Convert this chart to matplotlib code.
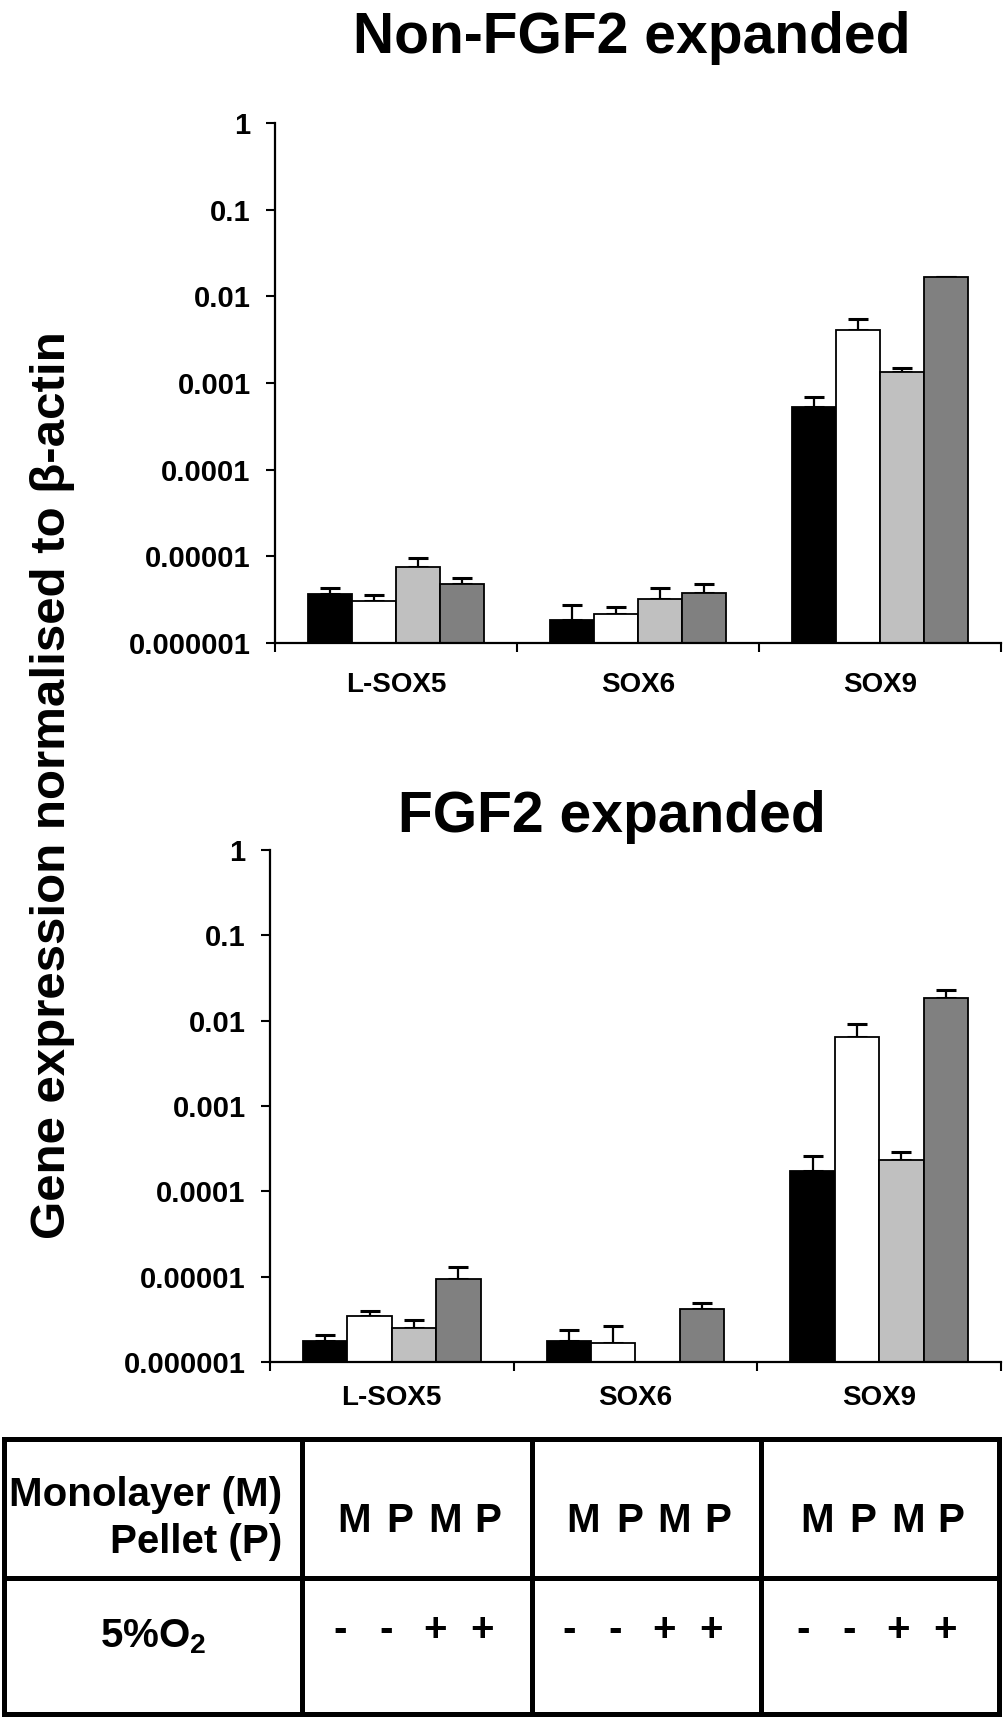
import numpy as np
import matplotlib
matplotlib.use("Agg")
import matplotlib.pyplot as plt

plt.rcParams['font.family'] = ['Liberation Sans', 'DejaVu Sans']
plt.rcParams['font.weight'] = 'bold'
plt.rcParams['mathtext.fontset'] = 'custom'
plt.rcParams['mathtext.bf'] = 'Liberation Sans:bold'
plt.rcParams['mathtext.rm'] = 'Liberation Sans:bold'

## data

genes = ['L-SOX5', 'SOX6', 'SOX9']
conditions = ['M -O2', 'P -O2', 'M +O2', 'P +O2']
colors = ['#000000', '#ffffff', '#c0c0c0', '#808080']

# Non-FGF2 expanded, one row per condition, one column per gene
nonfgf_mean = [[3.66e-6, 1.87e-6, 5.24e-4],
               [3.05e-6, 2.19e-6, 4.15e-3],
               [7.64e-6, 3.23e-6, 1.33e-3],
               [4.85e-6, 3.83e-6, 1.68e-2]]
nonfgf_top = [[4.34e-6, 2.75e-6, 6.82e-4],
              [3.58e-6, 2.60e-6, 5.51e-3],
              [9.48e-6, 4.34e-6, 1.51e-3],
              [5.70e-6, 4.81e-6, 1.68e-2]]

# FGF2 expanded (SOX6 light grey bar missing)
fgf_mean = [[1.75e-6, 1.77e-6, 1.74e-4],
            [3.47e-6, 1.65e-6, 6.48e-3],
            [2.48e-6, np.nan, 2.30e-4],
            [9.27e-6, 4.17e-6, 1.83e-2]]
fgf_top = [[2.08e-6, 2.34e-6, 2.58e-4],
           [3.93e-6, 2.62e-6, 9.06e-3],
           [3.09e-6, np.nan, 2.90e-4],
           [1.30e-5, 4.91e-6, 2.31e-2]]

yticks = [1e-6, 1e-5, 1e-4, 1e-3, 1e-2, 1e-1, 1]
ytick_labels = ['0.000001', '0.00001', '0.0001', '0.001', '0.01', '0.1', '1']

row1_label = ['Monolayer (M)', 'Pellet (P)']
row1_vals = ['M', 'P', 'M', 'P']
row2_label = r'5%O$_\mathbf{2}$'
row2_vals = ['-', '-', '+', '+']

## figure

fig = plt.figure(figsize=(10.04, 17.19), dpi=100)

def panel(rect, means, tops, title, title_xy, label_pad):
    ax = fig.add_axes(rect)
    w = 0.182
    x = np.arange(len(genes)) + 0.5
    for j in range(len(conditions)):
        m = np.array(means[j])
        t = np.array(tops[j])
        xs = x + (j - 1.5) * w
        ax.bar(xs, m, w, color=colors[j], edgecolor='black', linewidth=1.3, zorder=2)
        ax.errorbar(xs, m, yerr=[np.zeros_like(m), t - m], fmt='none',
                    ecolor='black', elinewidth=1.6, capsize=7, capthick=2.2, zorder=1)
    ax.set_yscale('log')
    ax.set_ylim(1e-6, 1)
    ax.set_xlim(0, 3)
    ax.set_yticks(yticks)
    ax.set_yticklabels(ytick_labels)
    ax.minorticks_off()
    ax.set_xticks([0, 1, 2, 3])
    ax.set_xticklabels([])
    ax.set_xticks(x, minor=True)
    ax.set_xticklabels(genes, minor=True)
    ax.tick_params(axis='y', which='major', length=6.5, width=1.5, labelsize=21, pad=11)
    ax.tick_params(axis='x', which='major', length=6.5, width=1.5)
    ax.tick_params(axis='x', which='minor', length=0, labelsize=20, pad=label_pad)
    for s in ['top', 'right']:
        ax.spines[s].set_visible(False)
    for s in ['left', 'bottom']:
        ax.spines[s].set_linewidth(1.6)
    fig.text(title_xy[0], title_xy[1], title, ha='center', va='center',
             fontsize=41, fontweight='bold')
    return ax

panel([0.2739, 0.6259, 0.7231, 0.3025], nonfgf_mean, nonfgf_top,
      'Non-FGF2 expanded', (0.6295, 0.9779), 21)
panel([0.2689, 0.2077, 0.7281, 0.2978], fgf_mean, fgf_top,
      'FGF2 expanded', (0.6096, 0.5247), 16.5)

fig.text(0.052, 0.543, r'Gene expression normalised to β-actin', rotation=90,
         ha='center', va='center', fontsize=35.5, fontweight='bold')

## table at the bottom, drawn in pixel coordinates

tab = fig.add_axes([0, 0, 1, 1])
tab.set_xlim(0, 1004)
tab.set_ylim(1719, 0)
tab.axis('off')

col_edges = [4, 302, 532, 761, 999]
row_edges = [1439, 1578, 1714]
for yy in row_edges:
    tab.plot([col_edges[0], col_edges[-1]], [yy, yy], color='black', lw=3.6,
             solid_capstyle='projecting')
for xx in col_edges:
    tab.plot([xx, xx], [row_edges[0], row_edges[-1]], color='black', lw=3.6,
             solid_capstyle='projecting')

tab.text(282, 1506, row1_label[0], ha='right', va='baseline', fontsize=29)
tab.text(282, 1553, row1_label[1], ha='right', va='baseline', fontsize=29)
tab.text((col_edges[0] + col_edges[1]) / 2, 1647, row2_label, ha='center',
         va='baseline', fontsize=29)
letter_off = [-63, -17, 28, 71]
sign_off = [-77, -31, 18, 65]
for k in range(1, 4):
    cx = (col_edges[k] + col_edges[k + 1]) / 2
    for s, dx in zip(row1_vals, letter_off):
        tab.text(cx + dx, 1532, s, ha='center', va='baseline', fontsize=29)
    for s, dx in zip(row2_vals, sign_off):
        tab.text(cx + dx, 1641, s, ha='center', va='baseline', fontsize=29)

fig.savefig('out.png', dpi=100)
